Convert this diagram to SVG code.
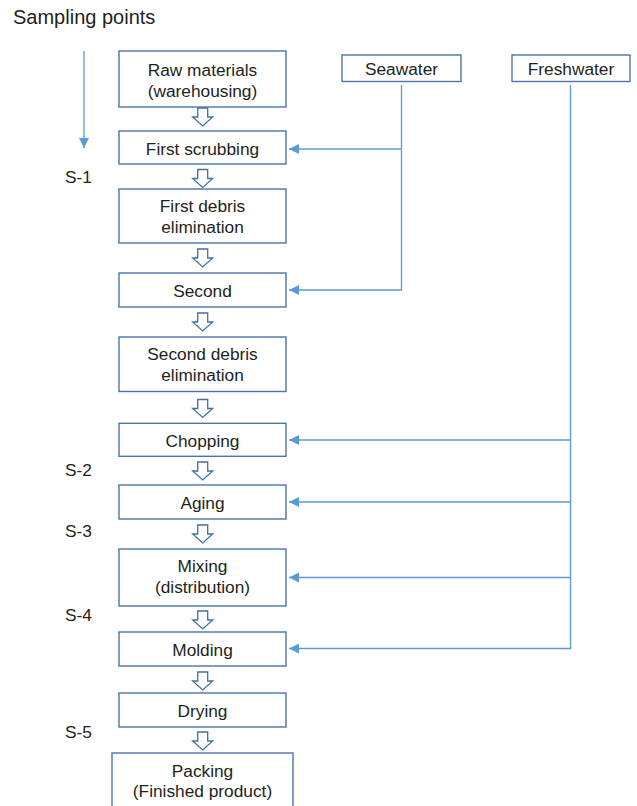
<svg xmlns="http://www.w3.org/2000/svg" width="637" height="806" viewBox="0 0 637 806">
<defs>
<style>
.box{fill:#fff;stroke:#4a74a8;stroke-width:1.4}
.t{font-family:"Liberation Sans",Arial,sans-serif;font-size:17.3px;fill:#231f20;text-anchor:middle}
.s{font-family:"Liberation Sans",Arial,sans-serif;font-size:17.3px;fill:#231f20}
.ln{fill:none;stroke:#5b9bd5;stroke-width:1.3}
.ho{fill:#fff;stroke:#41719c;stroke-width:1.3;stroke-linejoin:miter}
</style>
<marker id="ah" markerWidth="11" markerHeight="10" refX="10" refY="5" orient="auto" markerUnits="userSpaceOnUse">
<path d="M0,0 L10,5 L0,10 Z" fill="#5b9bd5"/>
</marker>
<path id="ha" d="M-5,0 H5 V9 H10 L0,18 L-10,9 H-5 Z"/>
</defs>
<rect width="637" height="806" fill="#fff"/>
<text x="13" y="24" font-family="&quot;Liberation Sans&quot;,Arial,sans-serif" font-size="20" fill="#231f20">Sampling points</text>

<g id="connectors">
<line class="ln" x1="84" y1="51" x2="84" y2="148" marker-end="url(#ah)"/>
<polyline class="ln" points="401.5,85 401.5,290 289,290" marker-end="url(#ah)"/>
<line class="ln" x1="401.5" y1="149" x2="289" y2="149" marker-end="url(#ah)"/>
<polyline class="ln" points="570.5,85 570.5,648.5 289,648.5" marker-end="url(#ah)"/>
<line class="ln" x1="570.5" y1="440" x2="289" y2="440" marker-end="url(#ah)"/>
<line class="ln" x1="570.5" y1="502" x2="289" y2="502" marker-end="url(#ah)"/>
<line class="ln" x1="570.5" y1="577.5" x2="289" y2="577.5" marker-end="url(#ah)"/>
<use href="#ha" class="ho" x="202.7" y="108"/>
<use href="#ha" class="ho" x="202.7" y="169.5"/>
<use href="#ha" class="ho" x="202.7" y="249"/>
<use href="#ha" class="ho" x="202.7" y="313"/>
<use href="#ha" class="ho" x="202.7" y="399.5"/>
<use href="#ha" class="ho" x="202.7" y="462"/>
<use href="#ha" class="ho" x="202.7" y="525"/>
<use href="#ha" class="ho" x="202.7" y="611"/>
<use href="#ha" class="ho" x="202.7" y="672"/>
<use href="#ha" class="ho" x="202.7" y="732"/>
</g>

<g id="raw"><rect class="box" x="119" y="51" width="167" height="56"/><text class="t" x="202.5" y="76">Raw materials</text><text class="t" x="202.5" y="97">(warehousing)</text></g>
<g id="seawater"><rect class="box" x="342" y="55" width="119" height="26.5"/><text class="t" x="401.5" y="75">Seawater</text></g>
<g id="freshwater"><rect class="box" x="512" y="55" width="118" height="26.5"/><text class="t" x="571" y="75">Freshwater</text></g>
<g id="scrub"><rect class="box" x="119" y="131" width="167" height="33"/><text class="t" x="202.5" y="155">First scrubbing</text></g>
<g id="debris1"><rect class="box" x="119" y="189" width="167" height="54"/><text class="t" x="202.5" y="212">First debris</text><text class="t" x="202.5" y="233">elimination</text></g>
<g id="second"><rect class="box" x="119" y="273" width="167" height="34"/><text class="t" x="202.5" y="297">Second</text></g>
<g id="debris2"><rect class="box" x="119" y="337" width="167" height="54.5"/><text class="t" x="202.5" y="360">Second debris</text><text class="t" x="202.5" y="381">elimination</text></g>
<g id="chopping"><rect class="box" x="119" y="423.3" width="167" height="33"/><text class="t" x="202.5" y="446.5">Chopping</text></g>
<g id="aging"><rect class="box" x="119" y="485" width="167" height="34"/><text class="t" x="202.5" y="509">Aging</text></g>
<g id="mixing"><rect class="box" x="119" y="549" width="167" height="57"/><text class="t" x="202.5" y="572">Mixing</text><text class="t" x="202.5" y="592.5">(distribution)</text></g>
<g id="molding"><rect class="box" x="119" y="632" width="167" height="34"/><text class="t" x="202.5" y="656">Molding</text></g>
<g id="drying"><rect class="box" x="119" y="693" width="167" height="34"/><text class="t" x="202.5" y="717">Drying</text></g>
<g id="packing"><rect class="box" x="112" y="753" width="181" height="60"/><text class="t" x="202.5" y="776.5">Packing</text><text class="t" x="202.5" y="796.5">(Finished product)</text></g>

<g id="labels">
<text class="s" x="65" y="183">S-1</text>
<text class="s" x="65" y="476">S-2</text>
<text class="s" x="65" y="537">S-3</text>
<text class="s" x="65" y="620.5">S-4</text>
<text class="s" x="65" y="738">S-5</text>
</g>
</svg>
